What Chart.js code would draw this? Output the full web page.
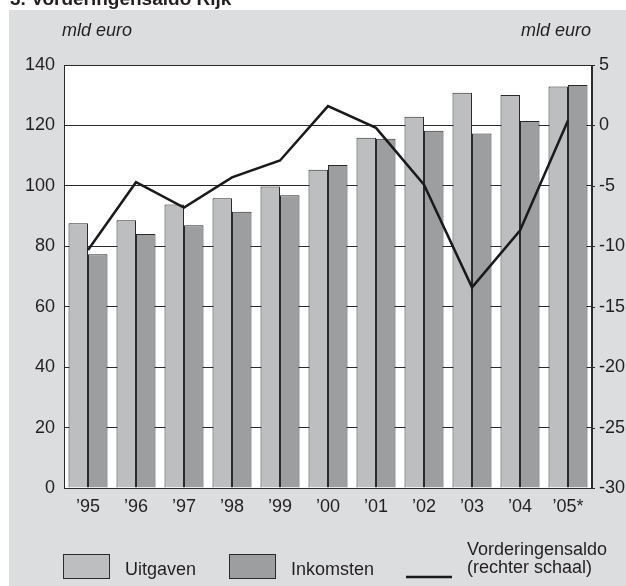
<!DOCTYPE html>
<html>
<head>
<meta charset="utf-8">
<script src="https://cdn.jsdelivr.net/npm/chart.js@4/dist/chart.umd.min.js"></script>
<style>
  html, body { margin: 0; padding: 0; background: #ffffff; }
  #wrap { width: 626px; height: 586px; position: relative; }
</style>
</head>
<body>
<div id="wrap"><canvas id="c" width="626" height="586"></canvas></div>
<script>
const categories = ["\u201995", "\u201996", "\u201997", "\u201998", "\u201999", "\u201900", "\u201901", "\u201902", "\u201903", "\u201904", "\u201905*"];
const uitgaven = [87.6, 88.6, 93.8, 95.9, 99.8, 105.3, 115.9, 122.9, 130.8, 130.1, 132.9];
const inkomsten = [77.4, 84.1, 87.0, 91.4, 96.9, 106.9, 115.6, 118.2, 117.3, 121.5, 133.4];
const saldo = [-10.3, -4.7, -6.8, -4.3, -2.9, 1.6, -0.2, -4.9, -13.4, -8.7, 0.4];
const leftTicks = [0, 20, 40, 60, 80, 100, 120, 140];
const rightTicks = [-30, -25, -20, -15, -10, -5, 0, 5];
const seriesNames = ["Uitgaven", "Inkomsten", "Vorderingensaldo", "(rechter schaal)"];
const unitLabel = "mld euro";
const titleText = "3. Vorderingensaldo Rijk";

const FONT = "'Liberation Sans', Arial, sans-serif";
const C_BG = '#dcdddf';
const C_U = '#bdbec0';
const C_I = '#9d9ea0';
const C_DARK = '#2a2a2a';
const C_TEXT = '#231f20';

const decor = {
  id: 'decor',
  beforeDraw(chart) {
    const ctx = chart.ctx;
    const a = chart.chartArea;
    ctx.save();
    ctx.fillStyle = '#ffffff';
    ctx.fillRect(0, 0, chart.width, chart.height);
    ctx.fillStyle = C_BG;
    ctx.fillRect(9, 10, chart.width - 9, chart.height - 10);
    ctx.fillStyle = '#ffffff';
    ctx.fillRect(a.left, a.top, a.right - a.left, a.bottom - a.top);
    ctx.restore();
  },
  afterDraw(chart) {
    const ctx = chart.ctx;
    const a = chart.chartArea;
    ctx.save();
    ctx.strokeStyle = C_DARK;
    ctx.lineWidth = 1;
    ctx.strokeRect(Math.round(a.left) + 0.5, Math.round(a.top) + 0.5, Math.round(a.right - a.left) - 1, Math.round(a.bottom - a.top));
    // small outward ticks on right axis
    const yR = chart.scales.yR;
    ctx.beginPath();
    yR.ticks.forEach(t => {
      const y = Math.round(yR.getPixelForValue(t.value)) + 0.5;
      ctx.moveTo(a.right, y);
      ctx.lineTo(a.right + 3, y);
    });
    ctx.stroke();
    // title
    ctx.fillStyle = C_TEXT;
    ctx.font = "bold 19px " + FONT;
    ctx.textBaseline = 'alphabetic';
    ctx.textAlign = 'left';
    ctx.fillText(titleText, 10, 5);
    // unit labels
    ctx.font = "italic 18px " + FONT;
    ctx.fillText(unitLabel, 62, 36);
    ctx.textAlign = 'right';
    ctx.fillText(unitLabel, 591, 36);
    // legend
    const ds = chart.data.datasets;
    ctx.textAlign = 'left';
    ctx.font = "18px " + FONT;
    ctx.lineWidth = 1;
    ctx.strokeStyle = C_DARK;
    ctx.fillStyle = ds[0].backgroundColor;
    ctx.fillRect(63.5, 554.5, 46, 24);
    ctx.strokeRect(63.5, 554.5, 46, 24);
    ctx.fillStyle = ds[1].backgroundColor;
    ctx.fillRect(229.5, 554.5, 46, 24);
    ctx.strokeRect(229.5, 554.5, 46, 24);
    ctx.fillStyle = C_TEXT;
    ctx.fillText(ds[0].label, 125, 575);
    ctx.fillText(ds[1].label, 291, 575);
    ctx.fillText(seriesNames[2], 467, 555);
    ctx.fillText(seriesNames[3], 467, 573);
    ctx.strokeStyle = ds[2].borderColor;
    ctx.lineWidth = ds[2].borderWidth;
    ctx.beginPath();
    ctx.moveTo(406, 577);
    ctx.lineTo(452, 577);
    ctx.stroke();
    ctx.restore();
  }
};

new Chart(document.getElementById('c'), {
  type: 'bar',
  data: {
    labels: categories,
    datasets: [
      { label: seriesNames[0], data: uitgaven, backgroundColor: C_U, borderColor: C_DARK, borderWidth: 1, yAxisID: 'yL', order: 2, categoryPercentage: 0.8125, barPercentage: 1.0 },
      { label: seriesNames[1], data: inkomsten, backgroundColor: C_I, borderColor: C_DARK, borderWidth: 1, yAxisID: 'yL', order: 2, categoryPercentage: 0.8125, barPercentage: 1.0 },
      { type: 'line', label: seriesNames[2], data: saldo, borderColor: '#1a1a1a', borderWidth: 2.5, pointRadius: 0, fill: false, tension: 0, yAxisID: 'yR', order: 0 }
    ]
  },
  options: {
    responsive: false,
    animation: false,
    devicePixelRatio: 1,
    layout: { padding: { top: 65, bottom: 68, left: 0, right: 0 } },
    plugins: { legend: { display: false }, tooltip: { enabled: false }, title: { display: false } },
    scales: {
      x: {
        position: 'bottom',
        grid: { display: false, drawTicks: false },
        border: { display: true, color: C_DARK, width: 1 },
        ticks: { color: C_TEXT, font: { family: FONT, size: 18 }, padding: 8, maxRotation: 0, autoSkip: false },
        afterFit(s) { s.height = 30; }
      },
      yL: {
        position: 'left',
        min: 0, max: 140,
        afterBuildTicks(s) { s.ticks = leftTicks.map(v => ({ value: v })); },
        grid: { color: C_DARK, lineWidth: 1, drawTicks: false },
        border: { display: true, color: C_DARK, width: 1 },
        ticks: { color: C_TEXT, font: { family: FONT, size: 18 }, padding: 9 },
        afterFit(s) { s.width = 64; }
      },
      yR: {
        position: 'right',
        min: -30, max: 5,
        afterBuildTicks(s) { s.ticks = rightTicks.map(v => ({ value: v })); },
        grid: { display: false, drawOnChartArea: false, drawTicks: false },
        border: { display: true, color: C_DARK, width: 1 },
        ticks: { color: C_TEXT, font: { family: FONT, size: 18 }, padding: 7 },
        afterFit(s) { s.width = 34; }
      }
    }
  },
  plugins: [decor]
});
</script>
</body>
</html>
